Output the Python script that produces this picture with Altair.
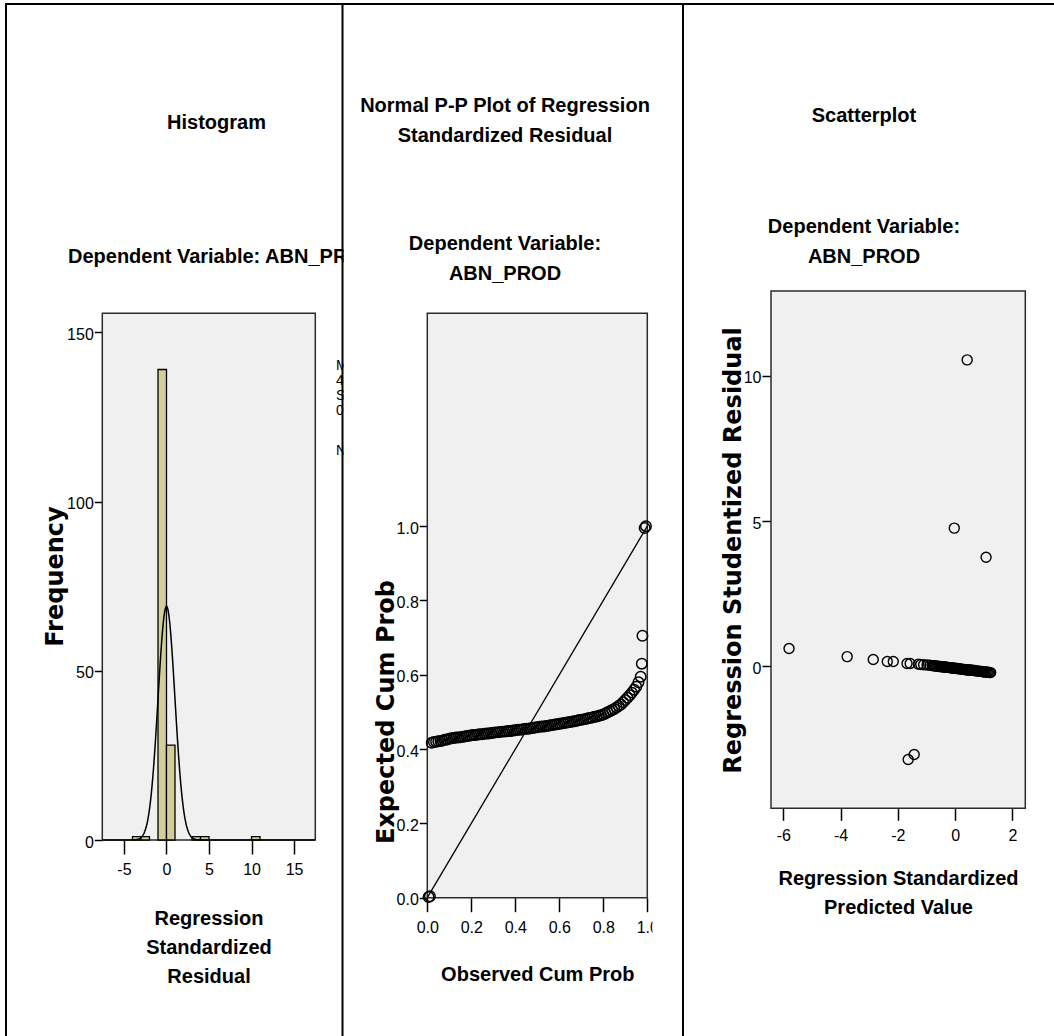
import altair as alt
import pandas as pd

NARROW = "Liberation Sans, Arial, Helvetica, sans-serif"
WIDE = "DejaVu Sans, Verdana, sans-serif"
TITLE_SIZE = 20
TICK_SIZE = 16

# ---------------- Histogram data ----------------
HIST_BIN_START = [-4, -3, -1, 0, 3, 4, 10]
HIST_BIN_END = [-3, -2, 0, 1, 4, 5, 11]
HIST_COUNT = [1, 1, 139, 28, 1, 1, 1]
HIST_X_TICKS = [-5, 0, 5, 10, 15]
HIST_Y_TICKS = [0, 50, 100, 150]
CURVE_N = 172
CURVE_BIN_WIDTH = 1
CURVE_MEAN = 0.0
CURVE_SD = 0.994
LEGEND_LINES = ["Mean =", "4.44E-16", "Std. Dev. =", "0.994"]
LEGEND_N = "N = 172"

# ---------------- Normal P-P plot data ----------------
PP_OBS = [0.006, 0.012,
          0.02, 0.03, 0.04, 0.05, 0.06, 0.07, 0.08, 0.09, 0.10,
          0.11, 0.12, 0.13, 0.14, 0.15, 0.16, 0.17, 0.18, 0.19, 0.20,
          0.21, 0.22, 0.23, 0.24, 0.25, 0.26, 0.27, 0.28, 0.29, 0.30,
          0.31, 0.32, 0.33, 0.34, 0.35, 0.36, 0.37, 0.38, 0.39, 0.40,
          0.41, 0.42, 0.43, 0.44, 0.45, 0.46, 0.47, 0.48, 0.49, 0.50,
          0.51, 0.52, 0.53, 0.54, 0.55, 0.56, 0.57, 0.58, 0.59, 0.60,
          0.61, 0.62, 0.63, 0.64, 0.65, 0.66, 0.67, 0.68, 0.69, 0.70,
          0.71, 0.72, 0.73, 0.74, 0.75, 0.76, 0.77, 0.78, 0.79, 0.80,
          0.81, 0.82, 0.83, 0.84, 0.85, 0.86, 0.87, 0.88, 0.89, 0.90,
          0.91, 0.92, 0.93, 0.94, 0.95, 0.96, 0.97,
          0.975, 0.978, 0.988, 0.994]
PP_EXP = [0.002, 0.004,
          0.417, 0.419, 0.420, 0.421, 0.422, 0.423, 0.425, 0.426, 0.428,
          0.429, 0.430, 0.431, 0.431, 0.432, 0.433, 0.434, 0.435, 0.436, 0.437,
          0.438, 0.438, 0.439, 0.440, 0.440, 0.441, 0.442, 0.442, 0.443, 0.444,
          0.445, 0.445, 0.446, 0.447, 0.447, 0.448, 0.449, 0.449, 0.450, 0.451,
          0.452, 0.452, 0.453, 0.454, 0.455, 0.455, 0.456, 0.457, 0.458, 0.459,
          0.460, 0.461, 0.461, 0.462, 0.463, 0.464, 0.465, 0.466, 0.467, 0.468,
          0.469, 0.470, 0.471, 0.472, 0.473, 0.474, 0.475, 0.476, 0.478, 0.479,
          0.480, 0.481, 0.483, 0.484, 0.485, 0.487, 0.488, 0.490, 0.491, 0.493,
          0.496, 0.499, 0.502, 0.505, 0.508, 0.512, 0.516, 0.520, 0.526, 0.532,
          0.538, 0.545, 0.552, 0.560, 0.568, 0.580, 0.595,
          0.630, 0.705, 0.995, 1.000]
PP_REF_X = [0.0, 1.0]
PP_REF_Y = [0.0, 1.0]
PP_TICKS = [0.0, 0.2, 0.4, 0.6, 0.8, 1.0]

# ---------------- Scatterplot data ----------------
SC_PRED = [-5.80, -3.77, -2.86, -2.37, -2.16, -1.68, -1.57, -1.28, -1.20, -1.10, -0.98, -0.88,
           0.42, -0.03, 1.08, -1.64, -1.43,
           -0.80, -0.76, -0.72, -0.68, -0.64, -0.60, -0.56, -0.52, -0.48, -0.44,
           -0.40, -0.36, -0.32, -0.28, -0.24, -0.20, -0.16, -0.12, -0.08, -0.04,
           0.00, 0.04, 0.08, 0.12, 0.16, 0.20, 0.24, 0.28, 0.32, 0.36,
           0.40, 0.44, 0.48, 0.52, 0.56, 0.60, 0.64, 0.68, 0.72, 0.76,
           0.80, 0.84, 0.88, 0.92, 0.96, 1.00, 1.04, 1.08, 1.12, 1.16, 1.20, 1.24]
SC_RESID = [0.62, 0.34, 0.24, 0.17, 0.17, 0.10, 0.10, 0.08, 0.07, 0.06, 0.05, 0.04,
            10.55, 4.76, 3.76, -3.20, -3.03,
            0.03, 0.03, 0.02, 0.02, 0.01, 0.01, 0.00, 0.00, -0.01, -0.01,
            -0.02, -0.02, -0.02, -0.03, -0.03, -0.04, -0.04, -0.05, -0.05, -0.06,
            -0.06, -0.07, -0.07, -0.08, -0.08, -0.09, -0.09, -0.10, -0.10, -0.11,
            -0.11, -0.12, -0.12, -0.12, -0.13, -0.13, -0.14, -0.14, -0.15, -0.15,
            -0.16, -0.16, -0.17, -0.17, -0.18, -0.18, -0.19, -0.19, -0.20, -0.20, -0.21, -0.21]
SC_X_TICKS = [-6, -4, -2, 0, 2]
SC_Y_TICKS = [0, 5, 10]

W, H = 1054, 1036
ONE = alt.Data(values=[{"k": 0}])


def rule(x1, y1, x2, y2, w=2.0, color="black"):
    return alt.Chart(ONE).mark_rule(color=color, strokeWidth=w).encode(
        x=alt.value(x1), y=alt.value(y1), x2=alt.value(x2), y2=alt.value(y2))


def box(x1, y1, x2, y2, fill="#f0f0f0", stroke="#2b2b2b", sw=1.5):
    kw = dict(fill=fill, strokeWidth=sw)
    if stroke:
        kw["stroke"] = stroke
    return alt.Chart(ONE).mark_rect(**kw).encode(
        x=alt.value(x1), x2=alt.value(x2), y=alt.value(y1), y2=alt.value(y2))


def label(text, x, y, size=TITLE_SIZE, weight="bold", align="center", font=NARROW, lh=30):
    return alt.Chart(ONE).mark_text(text=text, font=font, fontSize=size, fontWeight=weight,
                                    align=align, baseline="alphabetic", color="black",
                                    lineHeight=lh).encode(x=alt.value(x), y=alt.value(y))


def xaxis(axis_y, values, title, title_x, title_y, tick=14, pad=20.7, expr=None, fmt=None):
    kw = dict(orient="bottom", offset=axis_y - H, values=values, grid=False, domain=False,
              ticks=True, tickSize=tick, tickWidth=1.5, tickColor="black",
              labelFont=NARROW, labelFontSize=TICK_SIZE, labelColor="black", labelPadding=pad,
              labelBaseline="alphabetic", labelAlign="center", labelFlush=False,
              labelOverlap=False, title=title, titleX=title_x, titleY=title_y,
              titleAlign="center", titleBaseline="alphabetic", titleAngle=0,
              titleFont=NARROW, titleFontSize=TITLE_SIZE, titleFontWeight="bold",
              titleColor="black", titleLineHeight=29)
    if expr:
        kw["labelExpr"] = expr
    if fmt:
        kw["format"] = fmt
    return alt.Axis(**kw)


def yaxis(axis_x, values, title, title_x, title_y, tick=8, fmt=None):
    kw = dict(orient="left", offset=-axis_x, values=values, grid=False, domain=False,
              ticks=True, tickSize=tick, tickWidth=1.5, tickColor="black",
              labelFont=NARROW, labelFontSize=TICK_SIZE, labelColor="black", labelPadding=1,
              labelAlign="right", labelBaseline="middle", labelOffset=2,
              labelFlush=False, labelOverlap=False, title=title,
              titleX=title_x, titleY=title_y, titleAngle=270, titleAlign="center",
              titleBaseline="alphabetic", titleFont=WIDE, titleFontSize=24,
              titleFontWeight="bold", titleColor="black")
    if fmt:
        kw["format"] = fmt
    return alt.Axis(**kw)


# ---------------- frames / borders ----------------
HX1, HX2, HY1, HY2 = 102.3, 315.3, 313.3, 840.0
PX1, PX2, PY1, PY2 = 427.3, 647.3, 313.3, 897.7
SX1, SX2, SY1, SY2 = 771.0, 1025.3, 291.0, 808.3

frames = [box(HX1, HY1, HX2, HY2), box(PX1, PY1, PX2, PY2), box(SX1, SY1, SX2, SY2)]

# ---------------- Histogram panel ----------------
hist_df = pd.DataFrame({"start": HIST_BIN_START, "end": HIST_BIN_END,
                        "count": HIST_COUNT, "base": [0] * len(HIST_COUNT)})
hx = alt.Scale(domain=[-7.55, 17.5], range=[HX1, HX2], nice=False, zero=False)
hy = alt.Scale(domain=[0, 155.6], range=[HY2, HY1], nice=False, zero=False)

bars = alt.Chart(hist_df).mark_bar(fill="#d3ce97", stroke="black", strokeWidth=1.3).encode(
    x=alt.X("start:Q", scale=hx,
            axis=xaxis(HY2, HIST_X_TICKS, ["Regression", "Standardized", "Residual"],
                       208.5, 84, expr="toString(datum.value)")),
    x2="end:Q",
    y=alt.Y("count:Q", scale=hy,
            axis=yaxis(HX1, HIST_Y_TICKS, "Frequency", -40, 576)),
    y2="base:Q",
)
curve = alt.Chart(alt.sequence(-7.5, 17.5, 0.05, as_="z")).transform_calculate(
    freq=f"{CURVE_N}*{CURVE_BIN_WIDTH}*densityNormal(datum.z, {CURVE_MEAN}, {CURVE_SD})"
).mark_line(color="black", strokeWidth=1.5).encode(
    x=alt.X("z:Q", scale=hx, axis=None),
    y=alt.Y("freq:Q", scale=hy, axis=None),
)

hist_texts = [
    label("Histogram", 216.5, 129),
    label("Dependent Variable: ABN_PROD", 68, 263, align="left"),
    label(LEGEND_LINES, 336, 370, size=14, weight="normal", align="left", lh=15),
    label(LEGEND_N, 336, 455, size=14, weight="normal", align="left"),
]

# ---------------- P-P panel ----------------
pp_df = pd.DataFrame({"obs": PP_OBS, "exp": PP_EXP})
ref_df = pd.DataFrame({"obs": PP_REF_X, "exp": PP_REF_Y})
px = alt.Scale(domain=[0, 1], range=[PX1, PX2], nice=False, zero=False)
py = alt.Scale(domain=[0, 1.573], range=[PY2, PY1], nice=False, zero=False)

pp_line = alt.Chart(ref_df).mark_line(color="black", strokeWidth=1.3).encode(
    x=alt.X("obs:Q", scale=px, axis=None),
    y=alt.Y("exp:Q", scale=py, axis=None),
)
pp_pts = alt.Chart(pp_df).mark_point(shape="circle", filled=False, color="black",
                                     strokeWidth=1.5, size=110, opacity=1).encode(
    x=alt.X("obs:Q", scale=px,
            axis=xaxis(PY2, PP_TICKS, "Observed Cum Prob", (PX1 + PX2) / 2, 82.3,
                       pad=20.5, fmt=".1f")),
    y=alt.Y("exp:Q", scale=py,
            axis=yaxis(PX1, PP_TICKS, "Expected Cum Prob", 393.5 - PX1, 711.5, fmt=".1f")),
)

pp_texts = [
    label(["Normal P-P Plot of Regression", "Standardized Residual"], 505, 112),
    label(["Dependent Variable:", "ABN_PROD"], 505, 250),
]

# ---------------- Scatter panel ----------------
sc_df = pd.DataFrame({"pred": SC_PRED, "resid": SC_RESID})
sx = alt.Scale(domain=[-6.43, 2.45], range=[SX1, SX2], nice=False, zero=False)
sy = alt.Scale(domain=[-4.88, 12.92], range=[SY2, SY1], nice=False, zero=False)

sc_pts = alt.Chart(sc_df).mark_point(shape="circle", filled=False, color="black",
                                     strokeWidth=1.4, size=100, opacity=1).encode(
    x=alt.X("pred:Q", scale=sx,
            axis=xaxis(SY2, SC_X_TICKS, ["Regression Standardized", "Predicted Value"],
                       898, 76.4, tick=12, pad=20.4, expr="toString(datum.value)")),
    y=alt.Y("resid:Q", scale=sy,
            axis=yaxis(SX1, SC_Y_TICKS, "Regression Studentized Residual", 740 - SX1, 550, tick=9)),
)

sc_texts = [
    label("Scatterplot", 864, 122),
    label(["Dependent Variable:", "ABN_PROD"], 864, 233),
]

# ---------------- masks (clipping of the table cells) & borders ----------------
masks = [
    box(343.6, 225, 420, 480, fill="white", stroke=None, sw=0),
    box(652.5, 905, 668, 945, fill="white", stroke=None, sw=0),
]
borders = [
    rule(5, 4, W, 4),
    rule(6, 3, 6, H),
    rule(342.5, 3, 342.5, H),
    rule(683, 3, 683, H),
]

layers = (frames + [bars, curve] + hist_texts + masks + borders
          + [pp_line, pp_pts] + pp_texts + [sc_pts] + sc_texts)

chart = alt.layer(*layers).resolve_scale(x="independent", y="independent").properties(
    width=W, height=H, padding=0, autosize=alt.AutoSizeParams(type="none"),
    background="white",
).configure_view(strokeWidth=0)

chart.save("out.html", embed_options={"renderer": "svg", "actions": False})
